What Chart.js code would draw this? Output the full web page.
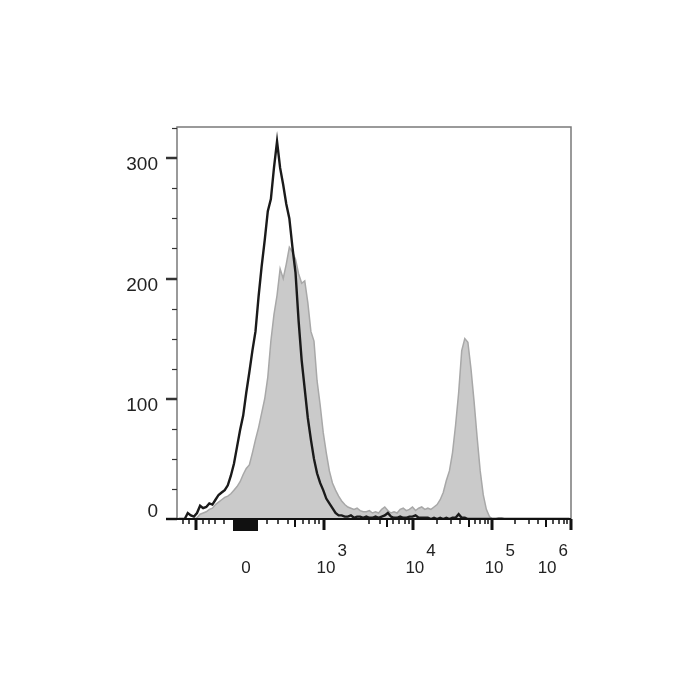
<!DOCTYPE html>
<html>
<head>
<meta charset="utf-8">
<script src="https://cdn.jsdelivr.net/npm/chart.js@4.4.1/dist/chart.umd.min.js"></script>
<style>
html,body{margin:0;padding:0;background:#fff;}
#wrap{width:700px;height:700px;position:relative;}
</style>
</head>
<body>
<div id="wrap"><canvas id="c" width="700" height="700"></canvas></div>
<script>
// Histogram bins: 128 bins of 8 channels on a 0..1024 display-channel axis
const binWidth = 8;
const unstainedCounts = [
  0,0,0,5,3,2,5,11,9,10,
  13,12,16,20,22,24,28,36,46,60,
  74,86,105,122,140,156,185,210,232,256,
  266,292,314,292,278,262,250,226,205,165,
  132,108,84,66,50,38,30,24,17,13,
  9,5,3,3,2,2,3,1,2,2,
  1,2,1,1,2,1,2,3,5,2,
  1,1,2,1,1,2,2,3,1,1,
  1,1,0,1,0,1,0,1,0,1,
  1,4,1,1,0,0,0,0,0,0,
  0,0,0,0,0,0,0,0,0,0,
  0,0,0,0,0,0,0,0,0,0,
  0,0,0,0,0,0,0,0
];
const stainedCounts = [
  0,0,0,0,0,0,1,4,5,6,
  8,9,12,14,16,18,19,21,24,27,
  31,37,42,45,55,66,76,88,100,118,
  148,170,186,208,200,212,226,222,216,204,
  196,198,180,156,148,115,95,72,55,40,
  30,24,19,15,12,10,9,8,9,7,
  6,6,7,5,6,5,8,10,7,5,
  6,5,8,9,7,8,10,7,9,10,
  8,9,8,10,12,16,22,32,40,55,
  78,105,140,150,147,125,98,68,40,20,
  8,2,0,0,1,1,0,0,0,0,
  0,0,0,0,0,0,0,0,0,0,
  0,0,0,0,0,0,0,0
];
// y axis ticks (counts)
const yMajorTicks = [0,100,200,300];
const yMinorTicks = [25,50,75,125,150,175,225,250,275,325];
const yMax = 326;
// x axis (display channel units)
const xMin = 0, xMax = 1024;
const xMajorTicks = [49,382,613,819,1024];
const xMediumTicks = [307,546,759,959];
const xMinorTicks = [16,31,68,83,99,122,234,262,288,327,343,359,369,499,528,561,577,593,603,676,712,735,775,788,800,808,878,915,938,977,993,1006,1014];
const xDenseTicks = [149,151,154,157,160,162,165,168,171,174,177,179,182,185,188,191,194,196,199,202,205,207];
const xLabelValues = [179,382,613,819,1024];
const xLabelBases = ["0","10","10","10","10"];
const xLabelExps = ["","3","4","5","6"];

const toPoints = arr => arr.map((v,i)=>({x:i*binWidth+binWidth/2, y:v}));

const axesPlugin = {
  id:'axesPlugin',
  afterDatasetsDraw(chart){
    const ctx = chart.ctx, a = chart.chartArea;
    const xs = chart.scales.x, ys = chart.scales.y;
    ctx.save();
    // frame
    ctx.strokeStyle = '#7a7a7a';
    ctx.lineWidth = 1.5;
    ctx.beginPath();
    ctx.moveTo(a.left, a.bottom); ctx.lineTo(a.left, a.top);
    ctx.lineTo(a.right, a.top); ctx.lineTo(a.right, a.bottom);
    ctx.stroke();
    // y ticks
    ctx.strokeStyle = '#333';
    ctx.lineWidth = 2.5;
    yMajorTicks.forEach(v=>{
      const y = Math.round(ys.getPixelForValue(v));
      ctx.beginPath(); ctx.moveTo(a.left-11, y); ctx.lineTo(a.left, y); ctx.stroke();
    });
    ctx.lineWidth = 1.2;
    yMinorTicks.forEach(v=>{
      const y = Math.round(ys.getPixelForValue(v))+0.5;
      ctx.beginPath(); ctx.moveTo(a.left-5, y); ctx.lineTo(a.left, y); ctx.stroke();
    });
    // y labels
    ctx.fillStyle = '#222';
    ctx.font = '19px "Liberation Sans", Arial, sans-serif';
    ctx.textAlign = 'right';
    ctx.textBaseline = 'middle';
    yMajorTicks.forEach(v=>{
      const y = ys.getPixelForValue(v);
      ctx.fillText(String(v), a.left-19, v===0 ? y-7 : y+7);
    });
    // x axis line
    ctx.strokeStyle = '#111';
    ctx.lineWidth = 2;
    ctx.beginPath(); ctx.moveTo(a.left-11, a.bottom); ctx.lineTo(a.right, a.bottom); ctx.stroke();
    // x ticks
    const xt = (vals, len, w) => {
      ctx.lineWidth = w;
      vals.forEach(v=>{
        const x = Math.round(xs.getPixelForValue(v));
        ctx.beginPath(); ctx.moveTo(x, a.bottom); ctx.lineTo(x, a.bottom+len); ctx.stroke();
      });
    };
    xt(xMinorTicks, 5, 1.5);
    xt(xMediumTicks, 8, 2);
    xt(xMajorTicks, 11, 3);
    xt(xDenseTicks, 12, 2);
    // x labels
    ctx.font = '17px "Liberation Sans", Arial, sans-serif';
    ctx.textBaseline = 'middle';
    xLabelValues.forEach((v,i)=>{
      let x = xs.getPixelForValue(v);
      const base = xLabelBases[i], ex = xLabelExps[i];
      const bw = ctx.measureText(base).width;
      const ew = ex ? ctx.measureText(ex).width : 0;
      let left = ex ? x + 2 - bw/2 : x - bw/2;
      if (left + bw + 2 + ew > a.right - 2) left = a.right - 3 - ew - 2 - bw;
      ctx.textAlign = 'left';
      ctx.fillText(base, left, 568);
      if (ex) ctx.fillText(ex, left + bw + 2, 551);
    });
    ctx.restore();
  }
};

new Chart(document.getElementById('c'), {
  type:'line',
  data:{
    datasets:[
      {
        label:'unstained',
        data: toPoints(unstainedCounts),
        borderColor:'#1a1a1a',
        borderWidth:2.4,
        fill:false,
        pointRadius:0,
        tension:0,
        order:0
      },
      {
        label:'stained',
        data: toPoints(stainedCounts),
        borderColor:'#a8a8a8',
        backgroundColor:'#cacaca',
        borderWidth:1.5,
        fill:'origin',
        pointRadius:0,
        tension:0,
        order:1
      }
    ]
  },
  options:{
    responsive:false,
    animation:false,
    devicePixelRatio:1,
    layout:{padding:{left:177,right:129,top:127,bottom:181}},
    plugins:{legend:{display:false},tooltip:{enabled:false}},
    scales:{
      x:{type:'linear',min:xMin,max:xMax,display:false},
      y:{type:'linear',min:0,max:yMax,display:false}
    }
  },
  plugins:[axesPlugin]
});
</script>
</body>
</html>
